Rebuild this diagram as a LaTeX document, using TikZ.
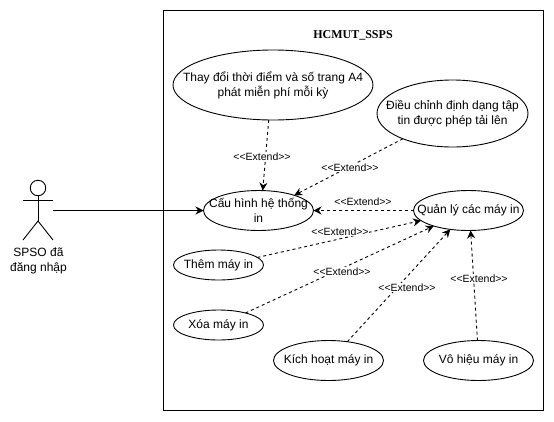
\documentclass[tikz,border=0pt]{standalone}
\usepackage{fontspec}
\setmainfont{Liberation Sans}
\newfontfamily\titlefont{Liberation Serif}
\usetikzlibrary{arrows.meta,shapes.geometric}
\tikzset{
  uc/.style={draw=black,line width=0.9pt,shape=ellipse,outer sep=0pt,inner xsep=-20pt,inner ysep=-5pt,align=center,font=\fontsize{12}{15}\selectfont},
  assoc/.style={draw=black,line width=0.9pt,-{Stealth[length=8pt,width=8pt]}},
  ext/.style={assoc,dash pattern=on 3pt off 3pt},
  extlabel/.style={fill=white,inner sep=0.5pt,font=\fontsize{10.5}{12}\selectfont},
  stick/.style={draw=black,line width=0.9pt}
}
\begin{document}
\begin{tikzpicture}[x=1pt,y=-1pt]
\useasboundingbox (0,0) rectangle (554,421);
\node[draw=black,line width=1pt,minimum width=379.5pt,minimum height=400pt,inner sep=0pt,outer sep=0pt] (sys) at (353.25,210) {};
\node[font=\titlefont\bfseries\fontsize{12}{14}\selectfont] (title) at (353,35) {HCMUT\_SSPS};
% actor
\node[minimum width=30pt,minimum height=60pt,inner sep=0pt,outer sep=0pt] (actor) at (38,210.5) {};
\node[draw=black,line width=0.9pt,circle,minimum size=15.5pt,inner sep=0pt,outer sep=0pt] (head) at (38,188) {};
\coordinate (hip) at (38,221);
\coordinate (armL) at (23,200.5);
\coordinate (armR) at (53,200.5);
\coordinate (footL) at (23,240);
\coordinate (footR) at (53,240);
\draw[stick] (head.south) -- (hip);
\draw[stick] (armL) -- (armR);
\draw[stick] (footL) -- (hip) -- (footR);
\node[align=center,font=\fontsize{12}{15}\selectfont] (actorname) at (38.5,260.5) {SPSO đã\\đăng nhập};
% use cases
\node[uc,minimum width=200pt,minimum height=70pt] (thay) at (273,85) {Thay đổi thời điểm và số trang A4\\phát miễn phí mỗi kỳ};
\node[uc,minimum width=151pt,minimum height=67pt] (dieu) at (452.5,113.5) {Điều chỉnh định dạng tập\\tin được phép tải lên};
\node[uc,minimum width=110pt,minimum height=40pt] (cau) at (258.5,210.5) {Cấu hình hệ thống\\in};
\node[uc,minimum width=110pt,minimum height=40pt] (quan) at (468.5,210.5) {Quản lý các máy in};
\node[uc,minimum width=90pt,minimum height=30pt] (them) at (218.5,265) {Thêm máy in};
\node[uc,minimum width=90pt,minimum height=30pt] (xoa) at (218.5,325) {Xóa máy in};
\node[uc,minimum width=110pt,minimum height=40pt] (kich) at (328.5,360.5) {Kích hoạt máy in};
\node[uc,minimum width=110pt,minimum height=40pt] (vo) at (478.5,360.5) {Vô hiệu máy in};
% connectors
\draw[assoc] (actor.east) -- (cau.west);
\draw[ext] (thay.263.5) -- (cau.78.7);
\draw[ext] (dieu.207.4) -- (cau.23.2);
\draw[ext] (quan.west) -- (cau.east);
\draw[ext] (them.11.6) -- (quan.192);
\draw[ext] (xoa.24) -- (quan.204.6);
\draw[ext] (kich.45) -- (quan.226.5);
\draw[ext] (vo.93) -- (quan.276);
% labels
\node[extlabel] (l1) at (262,156.5) {<{}<Extend>{}>};
\node[extlabel] (l2) at (350,167.5) {<{}<Extend>{}>};
\node[extlabel] (l3) at (363,201.5) {<{}<Extend>{}>};
\node[extlabel] (l4) at (340,231.5) {<{}<Extend>{}>};
\node[extlabel] (l5) at (342,271.5) {<{}<Extend>{}>};
\node[extlabel] (l6) at (407,287.5) {<{}<Extend>{}>};
\node[extlabel] (l7) at (479,278.5) {<{}<Extend>{}>};
\end{tikzpicture}
\end{document}
